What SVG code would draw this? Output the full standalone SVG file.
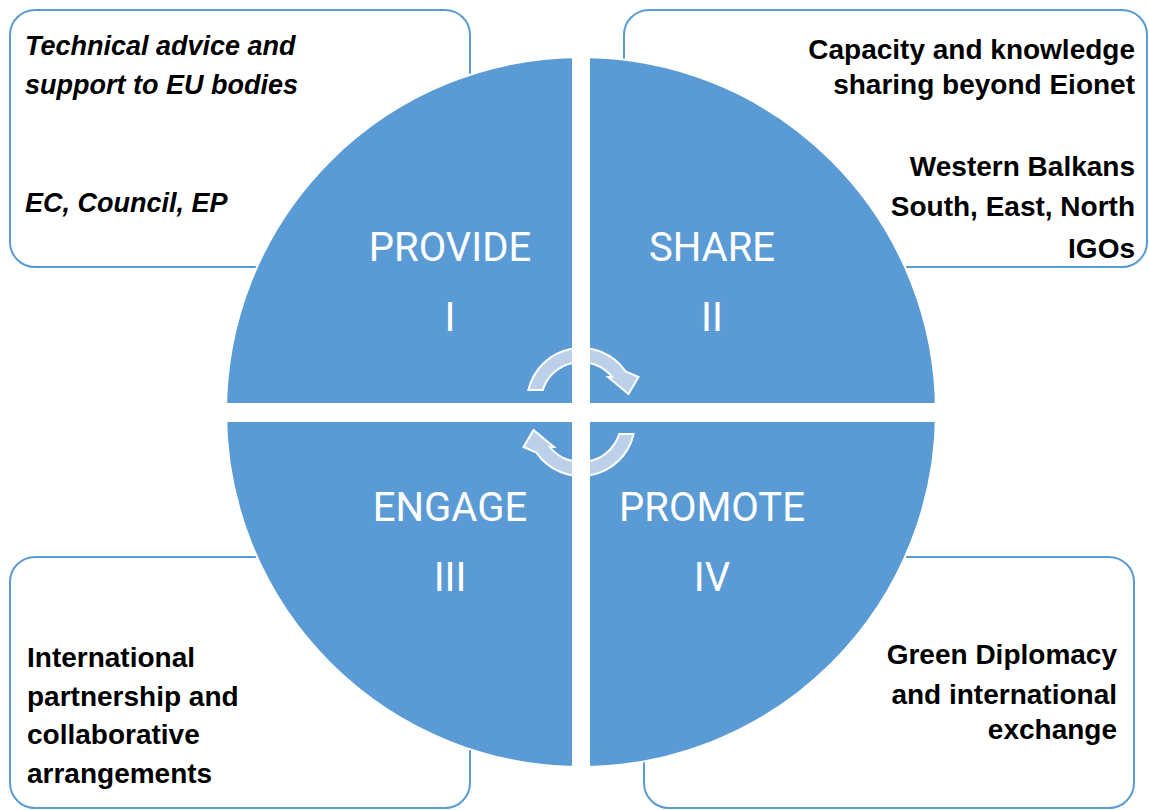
<svg xmlns="http://www.w3.org/2000/svg" width="1149" height="810" viewBox="0 0 1149 810">
<style>
.box{fill:#fff;stroke:#5B9BD5;stroke-width:2}
.bt{font-family:"Liberation Sans",Arial,sans-serif;font-weight:bold;font-size:28px;fill:#000}
.it{font-style:italic;font-size:27px}
.end{text-anchor:end}
.ql{font-family:Roboto,"Liberation Sans",sans-serif;font-size:40px;fill:#fff;text-anchor:middle}
.arr{fill:#BDD0EA;stroke:#fff;stroke-width:2;stroke-linejoin:miter}
.gap{fill:#fff}
</style>
<rect x="0" y="0" width="1149" height="810" fill="#fff"/>
<g id="box-provide">
<rect class="box" x="10" y="10" width="460" height="257" rx="25"/>
<text class="bt it" x="25" y="55">Technical advice and</text>
<text class="bt it" x="25" y="94">support to EU bodies</text>
<text class="bt it" x="25" y="212">EC, Council, EP</text>
</g>
<g id="box-share">
<rect class="box" x="624" y="10" width="523" height="257" rx="25"/>
<text class="bt end" x="1135" y="59">Capacity and knowledge</text>
<text class="bt end" x="1135" y="94">sharing beyond Eionet</text>
<text class="bt end" x="1135" y="176">Western Balkans</text>
<text class="bt end" x="1135" y="216">South, East, North</text>
<text class="bt end" x="1135" y="258">IGOs</text>
</g>
<g id="box-engage">
<rect class="box" x="10" y="557" width="460" height="251" rx="25"/>
<text class="bt" x="27" y="667">International</text>
<text class="bt" x="27" y="706">partnership and</text>
<text class="bt" x="27" y="744">collaborative</text>
<text class="bt" x="27" y="783">arrangements</text>
</g>
<g id="box-promote">
<rect class="box" x="644" y="557" width="490" height="251" rx="25"/>
<text class="bt end" x="1117" y="664">Green Diplomacy</text>
<text class="bt end" x="1117" y="704">and international</text>
<text class="bt end" x="1117" y="739">exchange</text>
</g>
<g id="circle">
<circle cx="581" cy="412" r="355" fill="#5B9BD5" stroke="#fff" stroke-width="2"/>
</g>
<g id="connectors">
<path id="arrow-top" class="arr" d="M528.4,390 A54,54 0 0,1 625.5,371.3 L638.5,377 L628.5,394 L608,377 L612.2,377 A40,40 0 0,0 542.8,390 Z"/>
<path id="arrow-bottom" class="arr" d="M528.4,390 A54,54 0 0,1 625.5,371.3 L638.5,377 L628.5,394 L608,377 L612.2,377 A40,40 0 0,0 542.8,390 Z" transform="rotate(180 581 412)"/>
</g>
<g id="gaps">
<rect class="gap" x="572" y="40" width="18" height="740"/>
<rect class="gap" x="210" y="403" width="740" height="19"/>
</g>
<g id="q-provide">
<text class="ql" x="450" y="261">PROVIDE</text>
<text class="ql" x="450" y="331">I</text>
</g>
<g id="q-share">
<text class="ql" x="712" y="261">SHARE</text>
<text class="ql" x="712" y="331">II</text>
</g>
<g id="q-engage">
<text class="ql" x="450" y="521">ENGAGE</text>
<text class="ql" x="450" y="591">III</text>
</g>
<g id="q-promote">
<text class="ql" x="712" y="521">PROMOTE</text>
<text class="ql" x="712" y="591">IV</text>
</g>
</svg>
